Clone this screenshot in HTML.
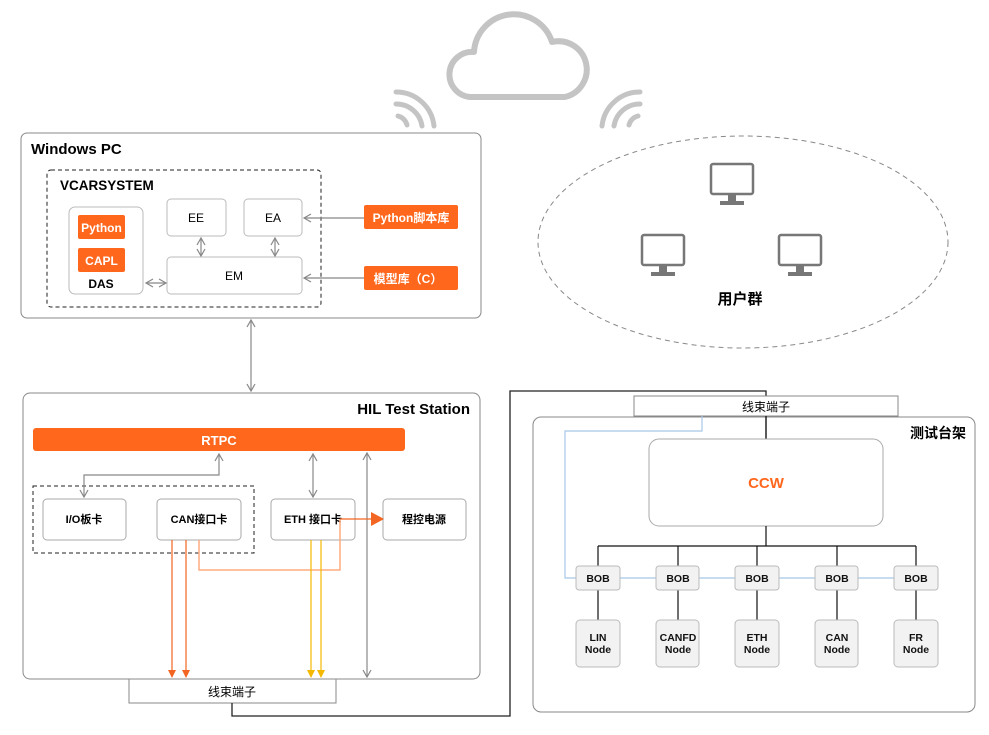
<!DOCTYPE html>
<html><head><meta charset="utf-8"><style>
body{margin:0;background:#fff}
svg text{font-family:"Liberation Sans","Noto Sans CJK SC",sans-serif}
</style></head><body>
<svg width="989" height="730" viewBox="0 0 989 730" xmlns="http://www.w3.org/2000/svg">
<defs>
<marker id="ga" markerWidth="10" markerHeight="10" refX="8" refY="5" orient="auto-start-reverse" markerUnits="userSpaceOnUse"><path d="M1,1 L8,5 L1,9" fill="none" stroke="#888" stroke-width="1.2"/></marker>
<marker id="oa" markerWidth="10" markerHeight="10" refX="8" refY="5" orient="auto" markerUnits="userSpaceOnUse"><path d="M1,1 L9,5 L1,9 Z" fill="#f26522"/></marker>
<marker id="ya" markerWidth="10" markerHeight="10" refX="8" refY="5" orient="auto" markerUnits="userSpaceOnUse"><path d="M1,1 L9,5 L1,9 Z" fill="#f5b800"/></marker>
<marker id="ob" markerWidth="14" markerHeight="14" refX="12" refY="7" orient="auto" markerUnits="userSpaceOnUse"><path d="M0,0 L13,7 L0,14 Z" fill="#f26522"/></marker>
<g id="mon"><rect x="2" y="2" width="42" height="30" rx="2" fill="#fff" stroke="#777" stroke-width="2.5"/><rect x="19" y="32" width="8" height="8" fill="#777"/><rect x="11" y="39" width="24" height="4" fill="#777"/></g>
</defs>

<!-- cloud -->
<path d="M470,97 A22,22 0 0 1 474,52 A40,40 0 0 1 552,42 A28,28 0 0 1 565,97 Z" fill="none" stroke="#c4c4c4" stroke-width="6" stroke-linejoin="round"/>
<g fill="none" stroke="#c4c4c4" stroke-width="5" stroke-linecap="round">
<path d="M396,92 A38,38 0 0 1 434,126"/><path d="M396,104 A26,26 0 0 1 422,126"/><path d="M398,116 A12,12 0 0 1 407,125"/>
<path d="M640,92 A38,38 0 0 0 602,126"/><path d="M640,104 A26,26 0 0 0 614,126"/><path d="M638,116 A12,12 0 0 0 629,125"/>
</g>

<!-- users ellipse -->
<ellipse cx="743" cy="242" rx="205" ry="106" fill="none" stroke="#888" stroke-dasharray="5,4"/>
<use href="#mon" x="709" y="162"/><use href="#mon" x="640" y="233"/><use href="#mon" x="777" y="233"/>
<text x="740" y="304" font-size="15" font-weight="bold" text-anchor="middle">用户群</text>

<!-- Windows PC -->
<rect x="21" y="133" width="460" height="185" rx="6" fill="#fff" stroke="#888"/>
<text x="31" y="154" font-size="15" font-weight="bold">Windows PC</text>
<rect x="47" y="170" width="274" height="137" rx="4" fill="none" stroke="#222" stroke-dasharray="4,3"/>
<text x="60" y="190" font-size="13.5" font-weight="bold">VCARSYSTEM</text>
<rect x="69" y="207" width="74" height="87" rx="6" fill="#fff" stroke="#bbb"/>
<rect x="78" y="215" width="47" height="24" rx="2" fill="#ff671d"/><text x="101.5" y="232" font-size="12" font-weight="bold" fill="#fff" text-anchor="middle">Python</text>
<rect x="78" y="248" width="47" height="24" rx="2" fill="#ff671d"/><text x="101.5" y="265" font-size="12" font-weight="bold" fill="#fff" text-anchor="middle">CAPL</text>
<text x="101" y="288" font-size="12" font-weight="bold" text-anchor="middle">DAS</text>
<rect x="167" y="199" width="59" height="37" rx="4" fill="#fff" stroke="#bbb"/><text x="196" y="222" font-size="12" text-anchor="middle">EE</text>
<rect x="244" y="199" width="58" height="37" rx="4" fill="#fff" stroke="#bbb"/><text x="273" y="222" font-size="12" text-anchor="middle">EA</text>
<rect x="167" y="257" width="135" height="37" rx="4" fill="#fff" stroke="#bbb"/><text x="234" y="280" font-size="12" text-anchor="middle">EM</text>
<rect x="364" y="205" width="94" height="24" rx="2" fill="#ff671d"/><text x="411" y="222" font-size="12" font-weight="bold" fill="#fff" text-anchor="middle">Python脚本库</text>
<rect x="364" y="266" width="94" height="24" rx="2" fill="#ff671d"/><text x="408" y="283" font-size="12" font-weight="bold" fill="#fff" text-anchor="middle">模型库（C）</text>
<g stroke="#888" stroke-width="1.2" fill="none">
<line x1="364" y1="218" x2="304" y2="218" marker-end="url(#ga)"/>
<line x1="364" y1="278" x2="304" y2="278" marker-end="url(#ga)"/>
<line x1="201" y1="238" x2="201" y2="256" marker-start="url(#ga)" marker-end="url(#ga)"/>
<line x1="275" y1="238" x2="275" y2="256" marker-start="url(#ga)" marker-end="url(#ga)"/>
<line x1="146" y1="283" x2="166" y2="283" marker-start="url(#ga)" marker-end="url(#ga)"/>
<line x1="251" y1="320" x2="251" y2="391" marker-start="url(#ga)" marker-end="url(#ga)"/>
</g>

<!-- HIL -->
<rect x="23" y="393" width="457" height="286" rx="7" fill="#fff" stroke="#888"/>
<text x="470" y="414" font-size="15" font-weight="bold" text-anchor="end">HIL Test Station</text>
<rect x="33" y="428" width="372" height="23" rx="3" fill="#ff671d"/>
<text x="219" y="445" font-size="13" font-weight="bold" fill="#fff" text-anchor="middle">RTPC</text>
<rect x="33" y="486" width="221" height="67" fill="none" stroke="#222" stroke-dasharray="4,3"/>
<g font-size="11" font-weight="bold" text-anchor="middle">
<rect x="43" y="499" width="83" height="41" rx="4" fill="#fff" stroke="#aaa"/><text x="84" y="523">I/O板卡</text>
<rect x="157" y="499" width="84" height="41" rx="4" fill="#fff" stroke="#aaa"/><text x="199" y="523">CAN接口卡</text>
<rect x="271" y="499" width="84" height="41" rx="4" fill="#fff" stroke="#aaa"/><text x="313" y="523">ETH 接口卡</text>
<rect x="383" y="499" width="83" height="41" rx="4" fill="#fff" stroke="#aaa"/><text x="424" y="523">程控电源</text>
</g>
<g stroke="#888" stroke-width="1.2" fill="none">
<polyline points="219,454 219,475 84,475 84,497" marker-start="url(#ga)" marker-end="url(#ga)"/>
<line x1="313" y1="454" x2="313" y2="497" marker-start="url(#ga)" marker-end="url(#ga)"/>
<line x1="367" y1="453" x2="367" y2="677" marker-start="url(#ga)" marker-end="url(#ga)"/>
</g>
<polyline points="199,540 199,570 340,570 340,519" fill="none" stroke="#ffab80" stroke-width="1.5"/>
<line x1="340" y1="519" x2="383" y2="519" stroke="#f26522" stroke-width="1.2" marker-end="url(#ob)"/>
<line x1="172" y1="540" x2="172" y2="677" stroke="#f26522" stroke-width="1.2" marker-end="url(#oa)"/>
<line x1="186" y1="540" x2="186" y2="677" stroke="#f26522" stroke-width="1.2" marker-end="url(#oa)"/>
<line x1="311" y1="540" x2="311" y2="677" stroke="#f5b800" stroke-width="1.2" marker-end="url(#ya)"/>
<line x1="321" y1="540" x2="321" y2="677" stroke="#f5b800" stroke-width="1.2" marker-end="url(#ya)"/>
<rect x="129" y="679" width="207" height="24" fill="#fff" stroke="#888"/>
<text x="232" y="696" font-size="12" text-anchor="middle">线束端子</text>

<!-- link -->
<polyline points="232,703 232,716 510,716 510,391 766,391 766,397" fill="none" stroke="#222" stroke-width="1.3"/>

<!-- test rack -->
<rect x="533" y="417" width="442" height="295" rx="8" fill="#fff" stroke="#888"/>
<text x="966" y="438" font-size="14" font-weight="bold" text-anchor="end">测试台架</text>
<rect x="634" y="396" width="264" height="20" fill="#fff" stroke="#888"/>
<text x="766" y="411" font-size="12" text-anchor="middle">线束端子</text>
<line x1="766" y1="416" x2="766" y2="439" stroke="#222" stroke-width="1.5"/>
<polyline points="702,416 702,431 565,431 565,578 576,578" fill="none" stroke="#a8c8e8" stroke-width="1.2"/>
<line x1="576" y1="578" x2="938" y2="578" stroke="#a8c8e8" stroke-width="1.2"/>
<rect x="649" y="439" width="234" height="87" rx="10" fill="#fff" stroke="#aaa"/>
<text x="766" y="488" font-size="15" font-weight="bold" fill="#ff671d" text-anchor="middle">CCW</text>
<g stroke="#111" stroke-width="1.2">
<line x1="766" y1="526" x2="766" y2="546"/>
<line x1="598" y1="546" x2="916" y2="546"/>
<line x1="598" y1="546" x2="598" y2="620"/><line x1="678" y1="546" x2="678" y2="620"/>
<line x1="757" y1="546" x2="757" y2="620"/><line x1="837" y1="546" x2="837" y2="620"/>
<line x1="916" y1="546" x2="916" y2="620"/>
</g>
<g font-size="10.5" font-weight="bold" text-anchor="middle" fill="#111">
<g stroke="#bbb" fill="#f2f2f2">
<rect x="576" y="566" width="44" height="24" rx="3"/><rect x="656" y="566" width="43" height="24" rx="3"/>
<rect x="735" y="566" width="44" height="24" rx="3"/><rect x="815" y="566" width="43" height="24" rx="3"/>
<rect x="894" y="566" width="44" height="24" rx="3"/>
<rect x="576" y="620" width="44" height="47" rx="4"/><rect x="656" y="620" width="43" height="47" rx="4"/>
<rect x="735" y="620" width="44" height="47" rx="4"/><rect x="815" y="620" width="43" height="47" rx="4"/>
<rect x="894" y="620" width="44" height="47" rx="4"/>
</g>
<text x="598" y="582">BOB</text><text x="678" y="582">BOB</text><text x="757" y="582">BOB</text><text x="837" y="582">BOB</text><text x="916" y="582">BOB</text>
<text x="598" y="641">LIN</text><text x="598" y="653">Node</text>
<text x="678" y="641">CANFD</text><text x="678" y="653">Node</text>
<text x="757" y="641">ETH</text><text x="757" y="653">Node</text>
<text x="837" y="641">CAN</text><text x="837" y="653">Node</text>
<text x="916" y="641">FR</text><text x="916" y="653">Node</text>
</g>
</svg>
</body></html>
